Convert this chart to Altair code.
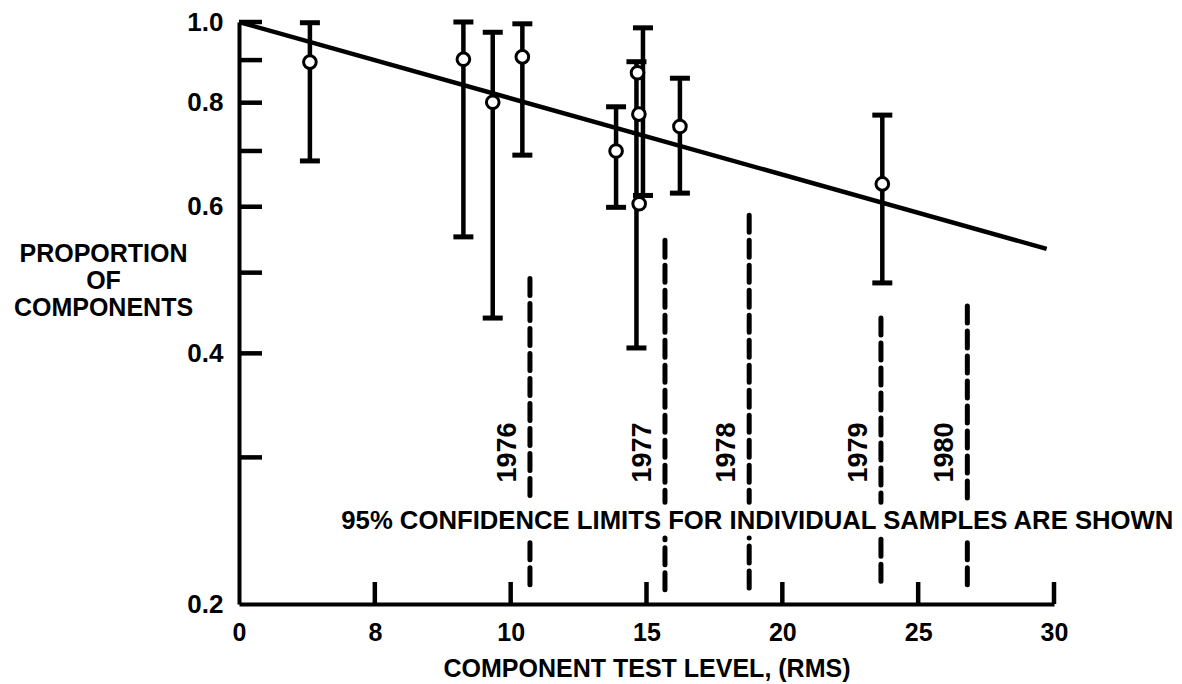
import altair as alt
import pandas as pd

# ---- data ----
pt_x = [2.61, 8.26, 9.34, 10.43, 13.88, 14.67, 14.72, 14.73, 16.23, 23.68]
pt_p = [0.895, 0.902, 0.801, 0.908, 0.700, 0.869, 0.775, 0.605, 0.749, 0.639]

bar_x = [2.61, 8.26, 9.34, 10.43, 13.88, 14.87, 14.63, 16.23, 23.68]
bar_lo = [0.681, 0.552, 0.441, 0.692, 0.599, 0.619, 0.406, 0.623, 0.486]
bar_hi = [0.998, 1.0, 0.972, 0.995, 0.791, 0.984, 0.896, 0.856, 0.773]

fit_x = [0.0, 29.73]
fit_p = [1.0, 0.534]

years = ["1976", "1977", "1978", "1979", "1980"]
year_x = [10.71, 15.68, 18.78, 23.63, 26.81]
year_top = [0.492, 0.547, 0.586, 0.441, 0.456]
year_bottom = [0.211, 0.208, 0.209, 0.213, 0.211]
gap_hi, gap_lo = 0.265, 0.240
year_label_p = 0.304

note = "95% CONFIDENCE LIMITS FOR INDIVIDUAL SAMPLES ARE SHOWN"
note_x, note_p = 19.08, 0.2516

x_ticks = [0, 5, 10, 15, 20, 25, 30]
x_tick_labels = ["0", "8", "10", "15", "20", "25", "30"]
x_tick_marks = [5, 10, 15, 20, 25, 30]
y_ticks_major = [1.0, 0.8, 0.6, 0.4, 0.2]
y_ticks_minor = [1.0, 0.9, 0.8, 0.7, 0.6, 0.5, 0.4, 0.3]

FONT = "Liberation Sans"

# ---- tables ----
pts = pd.DataFrame({"x": pt_x, "p": pt_p})
bars = pd.DataFrame({"x": bar_x, "p": bar_lo, "p2": bar_hi})
caps = pd.DataFrame({"x": bar_x + bar_x, "p": bar_lo + bar_hi})
fit = pd.DataFrame({"x": fit_x, "p": fit_p})
seg_rows = []
for yr, xv, t, b in zip(years, year_x, year_top, year_bottom):
    seg_rows.append({"x": xv, "p": t, "p2": gap_hi})
    seg_rows.append({"x": xv, "p": b, "p2": gap_lo})
segs = pd.DataFrame(seg_rows)
ylabels = pd.DataFrame({"x": year_x, "p": [year_label_p] * len(years), "t": years})
notes = pd.DataFrame({"x": [note_x], "p": [note_p], "t": [note]})
xt = pd.DataFrame({"x": x_tick_marks, "p": [0.2] * len(x_tick_marks)})
yt = pd.DataFrame({"x": [0.0] * len(y_ticks_minor), "p": y_ticks_minor})

label_expr = "{}[indexof({}, datum.value)]".format(
    "[" + ",".join("'" + s + "'" for s in x_tick_labels) + "]",
    "[" + ",".join(str(v) for v in x_ticks) + "]",
)

xaxis = alt.Axis(
    values=x_ticks, labelExpr=label_expr, ticks=False, grid=False,
    domainColor="black", domainWidth=4,
    labelFont=FONT, labelFontWeight="bold", labelFontSize=25, labelColor="black",
    labelPadding=16, labelFlush=False,
    title="COMPONENT TEST LEVEL, (RMS)", titleFont=FONT, titleFontWeight="bold",
    titleFontSize=25, titleColor="black", titleBaseline="middle", titleY=64,
)
yaxis = alt.Axis(
    values=y_ticks_major, format=".1f", ticks=False, grid=False,
    domainColor="black", domainWidth=4,
    labelFont=FONT, labelFontWeight="bold", labelFontSize=26, labelColor="black",
    labelPadding=16, labelFlush=False,
    title=["PROPORTION", "OF", "COMPONENTS"], titleFont=FONT, titleFontWeight="bold",
    titleFontSize=25, titleColor="black", titleAngle=0, titleAlign="center",
    titleBaseline="top", titleX=-136, titleY=219, titleLineHeight=27,
)

xs = alt.Scale(domain=[0, 30], nice=False, zero=False)
ys = alt.Scale(type="log", domain=[0.2, 1.0], nice=False)
X = alt.X("x:Q", scale=xs, axis=xaxis)
Y = alt.Y("p:Q", scale=ys, axis=yaxis)

fit_line = alt.Chart(fit).mark_line(color="black", strokeWidth=4.5).encode(x=X, y=Y)
stems = alt.Chart(bars).mark_rule(color="black", strokeWidth=4.5).encode(
    x=X, y=Y, y2=alt.Y2("p2:Q"))
cap_marks = alt.Chart(caps).mark_tick(
    orient="horizontal", color="black", size=20, thickness=5, opacity=1
).encode(x=X, y=Y)
circles = alt.Chart(pts).mark_point(
    shape="circle", size=160, filled=True, fill="white", stroke="black",
    strokeWidth=3, opacity=1
).encode(x=X, y=Y)
dashes = alt.Chart(segs).mark_rule(
    color="black", strokeWidth=5, strokeDash=[17, 8], strokeCap="round"
).encode(x=X, y=Y, y2=alt.Y2("p2:Q"))
year_text = alt.Chart(ylabels).mark_text(
    angle=270, dy=-22, align="center", baseline="middle", font=FONT,
    fontWeight="bold", fontSize=27, color="black"
).encode(x=X, y=Y, text="t:N")
note_text = alt.Chart(notes).mark_text(
    align="center", baseline="middle", font=FONT, fontWeight="bold",
    fontSize=25.7, color="black"
).encode(x=X, y=Y, text="t:N")
x_tick_layer = alt.Chart(xt).mark_tick(
    orient="vertical", color="black", size=22, thickness=4.5, yOffset=-11, opacity=1
).encode(x=X, y=Y)
y_tick_layer = alt.Chart(yt).mark_tick(
    orient="horizontal", color="black", size=23, thickness=4.5, xOffset=11.5, opacity=1
).encode(x=X, y=Y)

chart = alt.layer(
    x_tick_layer, y_tick_layer, fit_line, dashes, stems, cap_marks, circles,
    year_text, note_text
).properties(
    width=815, height=582,
    autosize=alt.AutoSizeParams(type="none"),
    padding={"left": 231, "top": 14, "right": 120, "bottom": 78},
    background="white",
).configure_view(stroke=None)

chart.save("out.html", embed_options={"renderer": "svg", "actions": False})
